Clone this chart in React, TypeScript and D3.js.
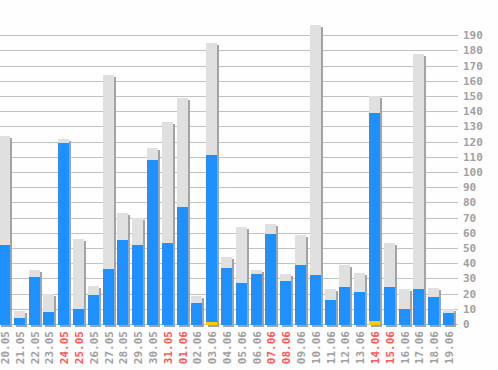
import React from "react";
import * as d3 from "d3";

const dates = ["20.05","21.05","22.05","23.05","24.05","25.05","26.05","27.05","28.05","29.05","30.05","31.05","01.06","02.06","03.06","04.06","05.06","06.06","07.06","08.06","09.06","10.06","11.06","12.06","13.06","14.06","15.06","16.06","17.06","18.06","19.06"];
const weekend = ["24.05","25.05","31.05","01.06","07.06","08.06","14.06","15.06"];
const totalValues = [124,8.5,35.5,20,122,56,25,164,73,69.5,116,133,149,18.5,185,44,64,35.5,66,33,58.5,197,23,39,33.5,150,53,23,177.5,23.5,10];
const blueValues = [52,4,31,8,119,10,19,36,55,52,108,53.5,77,14,111,37,27,33,59.5,28.5,39,32.5,16,24.5,21,138.5,24.5,10,23,17.8,7.3];
const yellowValues = [0,0,0,0,0,0,0,0,0,0,0,0,0,0,1.2,0,0,0,0,0,0,0,0,0,0,2,0,0,0,0,0];
const yTicks = d3.range(0, 200, 10);

const W = 498, H = 370;
const gridRight = 458;

export default function App() {
  const x = d3.scaleBand<string>().domain(dates).range([-3, 455.8]).paddingInner(0.257).paddingOuter(0.1285);
  const y = d3.scaleLinear().domain([0, 200]).range([324, 20]);
  const bw = Math.round(x.bandwidth());
  const font = "'DejaVu Sans Mono', 'Liberation Mono', monospace";
  return (
    <svg width={W} height={H} style={{ position: "fixed", left: 0, top: 0, background: "#fff" }} shapeRendering="crispEdges">
      <rect x={0} y={0} width={W} height={H} fill="#fefefe" />
      {yTicks.map((t) => (
        <g key={t}>
          <line x1={0} x2={gridRight} y1={Math.round(y(t)) + 0.5} y2={Math.round(y(t)) + 0.5} stroke="#c2c2c2" strokeWidth={1} />
          <text x={463} y={Math.round(y(t)) + 0.5} dominantBaseline="central" fontFamily={font} fontWeight="bold" fontSize={11} fill="#a0a0a0" shapeRendering="auto">{t}</text>
        </g>
      ))}
      {dates.map((d, i) => {
        const x0 = Math.round(x(d)!);
        const yT = Math.round(y(totalValues[i]));
        const yB = Math.round(y(blueValues[i]));
        const y0 = Math.round(y(0)) + 1;
        const yY = Math.round(y(yellowValues[i]));
        return (
          <g key={d}>
            <rect x={x0 + 2} y={yT + 2} width={bw} height={y0 - yT} fill="#a3a3a3" />
            <rect x={x0} y={yT} width={bw} height={y0 - yT} fill="#e0e0e0" />
            <rect x={x0} y={yB} width={bw} height={y0 - yB} fill="#1e90ff" />
            {yellowValues[i] > 0 && (
              <rect x={x0} y={yY} width={bw} height={y0 - yY} fill="#ffcc00" />
            )}
          </g>
        );
      })}
      {dates.map((d) => {
        const cx = x(d)! + x.bandwidth() / 2 + 1;
        return (
          <text key={"l" + d} transform={`translate(${cx},331) rotate(-90)`} textAnchor="end" dominantBaseline="central"
            fontFamily={font} fontWeight="bold" fontSize={11} fill={weekend.includes(d) ? "#ff5a5a" : "#a0a0a0"} shapeRendering="auto">{d}</text>
        );
      })}
    </svg>
  );
}
